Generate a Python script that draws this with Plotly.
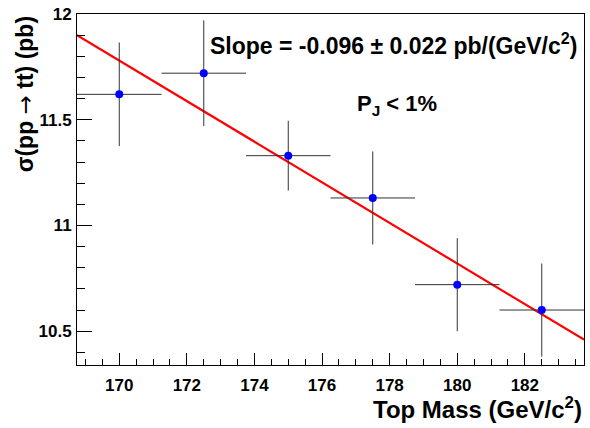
import plotly.graph_objects as go

# Data
top_mass = [170.0, 172.5, 175.0, 177.5, 180.0, 182.5]
xsec = [11.62, 11.72, 11.33, 11.13, 10.72, 10.60]
xsec_err = [0.245, 0.25, 0.165, 0.22, 0.22, 0.22]
mass_err = [1.25, 1.25, 1.25, 1.25, 1.25, 1.25]

fit_x = [168.75, 183.75]
fit_y = [11.90, 10.46]

FONT = "Liberation Sans, Arial, Helvetica, sans-serif"

fig = go.Figure()

fig.add_trace(go.Scatter(
    x=fit_x, y=fit_y, mode="lines",
    line=dict(color="#ff0000", width=2.2),
    showlegend=False, hoverinfo="skip"))

fig.add_trace(go.Scatter(
    x=top_mass, y=xsec, mode="markers",
    marker=dict(color="#0000ff", size=8),
    error_y=dict(type="data", array=xsec_err, color="#333333", thickness=1, width=0),
    error_x=dict(type="data", array=mass_err, color="#333333", thickness=1, width=0),
    showlegend=False))

fig.update_layout(
    width=590, height=428,
    margin=dict(l=77, r=5, t=12, b=63),
    paper_bgcolor="white", plot_bgcolor="white",
    font=dict(family=FONT, color="black", size=17, weight="bold"),
    xaxis=dict(
        range=[168.75, 183.75], dtick=2, tick0=170,
        ticks="inside", ticklen=12, tickwidth=1, tickcolor="black",
        minor=dict(dtick=0.5, tick0=170, ticks="inside", ticklen=6, tickcolor="black"),
        showline=True, linecolor="black", linewidth=1, mirror=True,
        showgrid=False, zeroline=False, ticklabelstandoff=5,
        tickfont=dict(family=FONT, size=17, weight="bold"),
    ),
    yaxis=dict(
        range=[10.34, 12.0], dtick=0.5, tick0=10.5,
        ticks="inside", ticklen=15, tickwidth=1, tickcolor="black",
        minor=dict(dtick=0.1, ticks="inside", ticklen=8, tickcolor="black"),
        showline=True, linecolor="black", linewidth=1, mirror=True,
        showgrid=False, zeroline=False, ticklabelstandoff=1,
        tickfont=dict(family=FONT, size=17, weight="bold"),
    ),
    annotations=[
        dict(text="Top Mass (GeV/c<sup>2</sup>)", xref="paper", yref="paper",
             x=1.0, y=-0.075, xanchor="right", yanchor="top", showarrow=False,
             font=dict(family=FONT, size=24, weight="bold")),
        dict(text="σ(pp <span style='font-family:DejaVu Sans;font-weight:normal'>→</span> tt) (pb)",
             xref="paper", yref="paper",
             x=-0.102, y=1.0, xanchor="center", yanchor="top", textangle=-90,
             showarrow=False, font=dict(family=FONT, size=23, weight="bold")),
        dict(text="Slope = -0.096 ± 0.022 pb/(GeV/c<sup>2</sup>)", xref="paper", yref="paper",
             x=0.99, y=0.915, xanchor="right", yanchor="middle", showarrow=False,
             font=dict(family=FONT, size=23, weight="bold")),
        dict(text="P<sub>J</sub> &lt; 1%", xref="paper", yref="paper",
             x=0.632, y=0.742, xanchor="center", yanchor="middle", showarrow=False,
             font=dict(family=FONT, size=22, weight="bold")),
    ],
)

fig.write_html("out.html", config={"displayModeBar": False},
               post_script="document.body.style.margin='0';")
